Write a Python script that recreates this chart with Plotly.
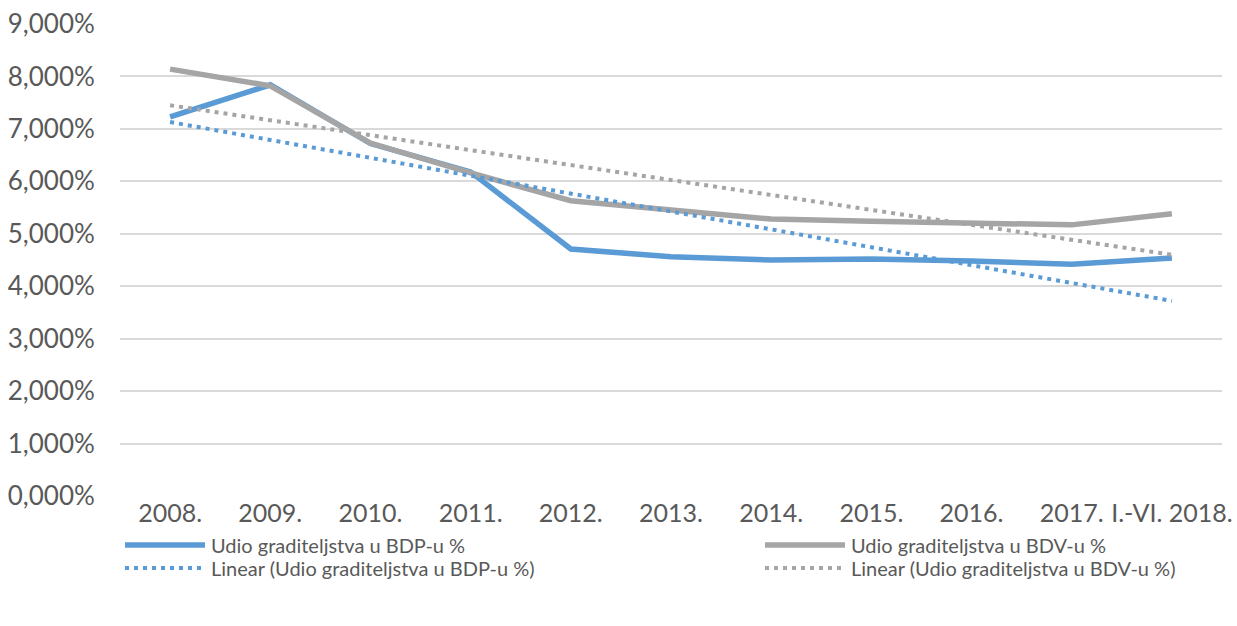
import plotly.graph_objects as go

# categories (years)
years = ["2008.", "2009.", "2010.", "2011.", "2012.", "2013.", "2014.",
         "2015.", "2016.", "2017.", "I.-VI. 2018."]

# share of construction in GDP / GVA, in %
bdp = [7.23, 7.84, 6.72, 6.18, 4.71, 4.56, 4.50, 4.52, 4.48, 4.42, 4.54]
bdv = [8.14, 7.82, 6.73, 6.16, 5.63, 5.45, 5.28, 5.24, 5.21, 5.17, 5.38]

# linear trend end points
trend_x = [years[0], years[-1]]
bdp_trend = [7.13, 3.72]
bdv_trend = [7.45, 4.60]

BLUE = "#5B9BD5"
GREY = "#A5A5A5"
FONT = "Lato, Open Sans, sans-serif"
DOTS = "4px,5px"

W, H = 1237, 626
L, R, T, B = 120, 15, 24, 130


def px_x(x):
    return (x - L) / (W - L - R)


def px_y(y):
    return (H - B - y) / (H - T - B)


series = [
    ("Udio graditeljstva u BDP-u %", years, bdp, BLUE, 5.5, "solid"),
    ("Udio graditeljstva u BDV-u %", years, bdv, GREY, 5.5, "solid"),
    ("Linear (Udio graditeljstva u BDP-u %)", trend_x, bdp_trend, BLUE, 4, DOTS),
    ("Linear (Udio graditeljstva u BDV-u %)", trend_x, bdv_trend, GREY, 4, DOTS),
]

fig = go.Figure()
for name, xs, ys, color, width, dash in series:
    fig.add_scatter(x=xs, y=ys, mode="lines", name=name, showlegend=False,
                    line=dict(color=color, width=width, dash=dash))

# hand-made two-column legend below the plot
legend_slots = [(125, 545), (765, 545), (125, 568), (765, 568)]
for (name, _, _, color, width, dash), (lx, ly) in zip(series, legend_slots):
    fig.add_shape(type="line", xref="paper", yref="paper",
                  x0=px_x(lx), x1=px_x(lx + 80), y0=px_y(ly), y1=px_y(ly),
                  line=dict(color=color, width=width, dash=dash))
    fig.add_annotation(text=name, xref="paper", yref="paper",
                       x=px_x(lx + 84), y=px_y(ly), xanchor="left", yanchor="middle",
                       showarrow=False, font=dict(size=20, color="#595959"))

fig.update_layout(
    width=W, height=H,
    margin=dict(l=L, r=R, t=T, b=B, autoexpand=False),
    paper_bgcolor="white", plot_bgcolor="white",
    separators=",.",
    font=dict(family=FONT, color="#595959"),
    showlegend=False,
)
fig.update_xaxes(type="category", range=[-0.5, 10.5], tickangle=0, automargin=False,
                 showgrid=False, showline=False, zeroline=False,
                 tickfont=dict(size=25, color="#595959"),
                 ticks="", ticklabelstandoff=0)
fig.update_yaxes(range=[0, 9], dtick=1, tickformat=".3f", ticksuffix="%",
                 automargin=False,
                 showgrid=True, gridcolor="#D9D9D9", gridwidth=2,
                 zeroline=False, showline=False,
                 tickfont=dict(size=26, color="#595959"),
                 ticks="outside", ticklen=19, tickcolor="white")

# drop the page's default body margin so the figure sits at the top-left corner
fig.write_html("out.html", config={"displayModeBar": False},
               post_script="document.body.style.margin = '0';")
